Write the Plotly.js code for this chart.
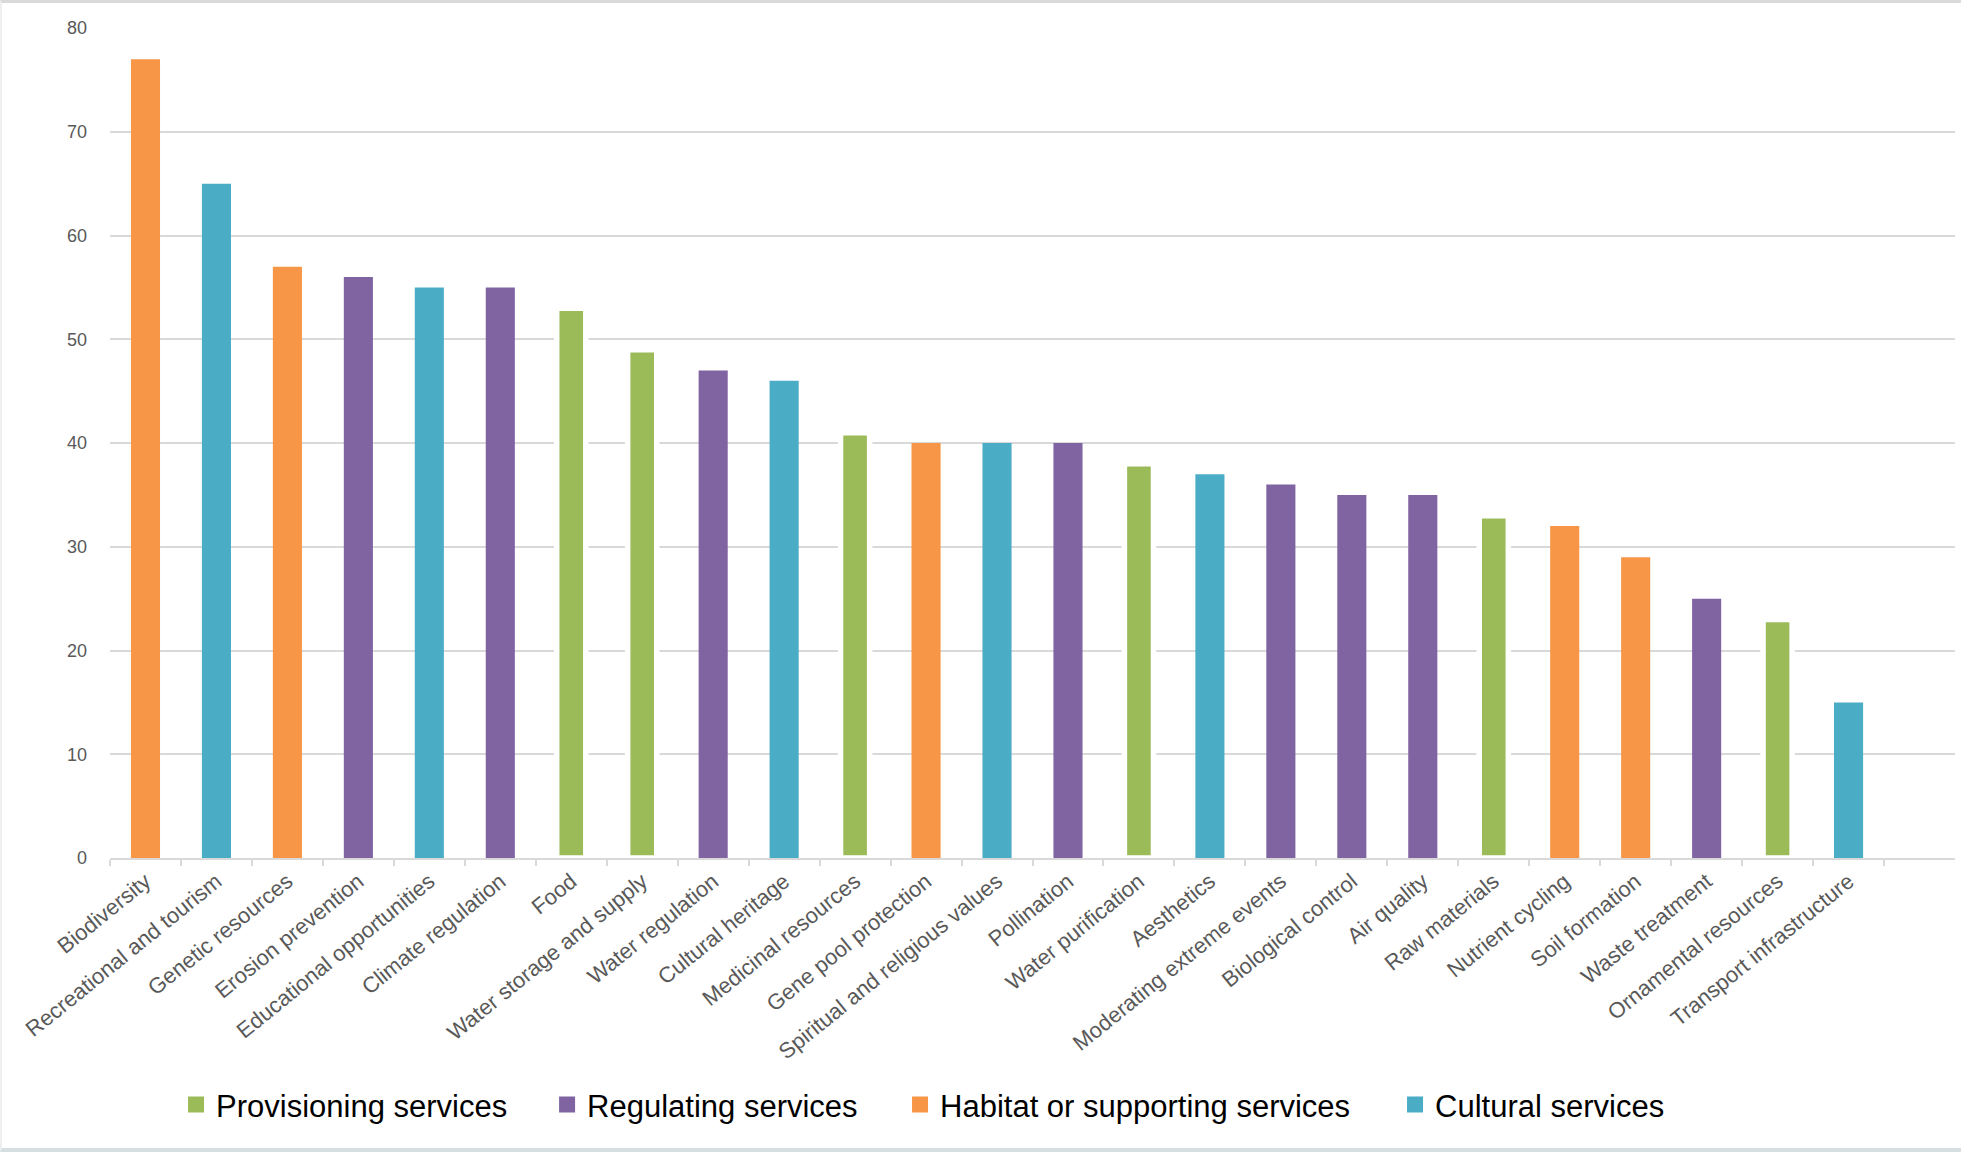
<!DOCTYPE html>
<html>
<head>
<meta charset="utf-8">
<script src="https://cdn.plot.ly/plotly-3.0.1.min.js"></script>
<style>
  html, body { margin: 0; padding: 0; background: #fff; }
  #wrap { position: relative; width: 1961px; height: 1152px; }
  #chart { width: 1961px; height: 1152px; }
  #frame { position: absolute; left: 0; top: 0; width: 1961px; height: 1152px; box-sizing: border-box;
           border-top: 3px solid #d9d9d9; border-bottom: 4px solid #d5dfe1; border-left: 2px solid #efefef;
           pointer-events: none; }
</style>
</head>
<body>
<div id="wrap"><div id="chart"></div><div id="frame"></div></div>
<script>
// ---- data ----
const categories = [
  "Biodiversity", "Recreational and tourism", "Genetic resources", "Erosion prevention",
  "Educational opportunities", "Climate regulation", "Food", "Water storage and supply",
  "Water regulation", "Cultural heritage", "Medicinal resources", "Gene pool protection",
  "Spiritual and religious values", "Pollination", "Water purification", "Aesthetics",
  "Moderating extreme events", "Biological control", "Air quality", "Raw materials",
  "Nutrient cycling", "Soil formation", "Waste treatment", "Ornamental resources",
  "Transport infrastructure"
];
const values = [77, 65, 57, 56, 55, 55, 53, 49, 47, 46, 41, 40, 40, 40, 38, 37, 36, 35, 35, 33, 32, 29, 25, 23, 15];
const serviceType = [
  "Habitat or supporting services", "Cultural services", "Habitat or supporting services", "Regulating services",
  "Cultural services", "Regulating services", "Provisioning services", "Provisioning services",
  "Regulating services", "Cultural services", "Provisioning services", "Habitat or supporting services",
  "Cultural services", "Regulating services", "Provisioning services", "Cultural services",
  "Regulating services", "Regulating services", "Regulating services", "Provisioning services",
  "Habitat or supporting services", "Habitat or supporting services", "Regulating services", "Provisioning services",
  "Cultural services"
];
const seriesNames = ["Provisioning services", "Regulating services", "Habitat or supporting services", "Cultural services"];
const yTicks = [0, 10, 20, 30, 40, 50, 60, 70, 80];

// ---- styles ----
const colors = {
  "Provisioning services": "#9BBB59",
  "Regulating services": "#8064A2",
  "Habitat or supporting services": "#F79646",
  "Cultural services": "#4BACC6"
};
const legendIds = ["legend", "legend2", "legend3", "legend4"];
const legendX = [0.0358, 0.2369, 0.4282, 0.6965];
const FONT = "'Liberation Sans', Arial, sans-serif";

const barTraces = seriesNames.map((name) => {
  const xs = [], ys = [];
  categories.forEach((c, i) => { if (serviceType[i] === name) { xs.push(c); ys.push(values[i]); } });
  const isProv = name === "Provisioning services";
  return {
    type: "bar",
    name: name,
    x: xs,
    y: ys,
    width: 0.41,
    marker: {
      color: colors[name],
      line: isProv ? { color: "#ffffff", width: 5.5 } : { color: colors[name], width: 0 }
    },
    showlegend: false,
    hoverinfo: "x+y"
  };
});

// legend-only entries (square swatches)
const legendTraces = seriesNames.map((name, k) => ({
  type: "scatter",
  mode: "markers",
  name: name,
  x: [null],
  y: [null],
  marker: { symbol: "square", size: 16, color: colors[name] },
  legend: legendIds[k],
  showlegend: true,
  hoverinfo: "skip"
}));

const legendBase = {
  orientation: "h",
  yanchor: "middle",
  y: -0.2974,
  xanchor: "left",
  font: { family: FONT, size: 31, color: "#000000" },
  bgcolor: "rgba(0,0,0,0)",
  borderwidth: 0,
  itemwidth: 30
};

const layout = {
  width: 1961,
  height: 1152,
  margin: { l: 110, r: 6, t: 28, b: 294 },
  paper_bgcolor: "#ffffff",
  plot_bgcolor: "#ffffff",
  barmode: "overlay",
  font: { family: FONT, color: "#595959" },
  showlegend: true,
  xaxis: {
    type: "category",
    categoryorder: "array",
    categoryarray: categories,
    range: [-0.5, categories.length + 0.5],
    tickson: "boundaries",
    ticks: "outside",
    ticklen: 6,
    tickwidth: 2,
    tickcolor: "#d9d9d9",
    showline: true,
    linecolor: "#d9d9d9",
    linewidth: 2,
    showgrid: false,
    tickangle: -39,
    tickfont: { family: FONT, size: 22, color: "#595959" },
    fixedrange: true
  },
  yaxis: {
    range: [0, 80],
    tickvals: yTicks,
    showgrid: true,
    gridcolor: "#d9d9d9",
    gridwidth: 2,
    zeroline: false,
    showline: false,
    ticks: "",
    ticklabelstandoff: 22,
    tickfont: { family: FONT, size: 18, color: "#595959" },
    fixedrange: true
  }
};
legendIds.forEach((id, k) => {
  layout[id] = Object.assign({}, legendBase, { x: legendX[k] });
});

Plotly.newPlot("chart", barTraces.concat(legendTraces), layout, { displayModeBar: false, staticPlot: true });
</script>
</body>
</html>
